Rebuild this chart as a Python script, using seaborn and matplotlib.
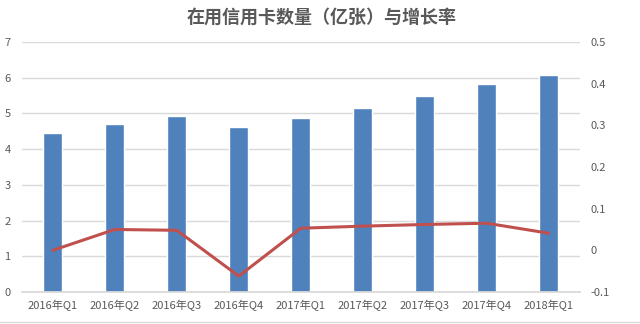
import numpy as np
import pandas as pd
import seaborn as sns
import matplotlib.pyplot as plt
from matplotlib.lines import Line2D

# data
quarters = ['2016年Q1', '2016年Q2', '2016年Q3', '2016年Q4', '2017年Q1',
            '2017年Q2', '2017年Q3', '2017年Q4', '2018年Q1']
cards = [4.45, 4.70, 4.93, 4.62, 4.87, 5.15, 5.49, 5.83, 6.08]   # 亿张
growth = [0.0, 0.050, 0.048, -0.062, 0.053, 0.058, 0.062, 0.065, 0.041]

df = pd.DataFrame({'quarter': quarters, 'cards': cards, 'growth': growth})
df['pos'] = np.arange(len(df))

sns.set_theme(style='white')
plt.rcParams['font.family'] = ['Noto Sans CJK SC', 'DejaVu Sans']

grey = '#595959'
fig = plt.figure(figsize=(6.4, 3.24), dpi=100)
ax = fig.add_axes([0.034, 0.099, 0.872, 0.771])

sns.barplot(data=df, x='quarter', y='cards', color='#4F81BD', width=0.31,
            saturation=1, ax=ax, zorder=2)
ax.set_ylim(0, 7)
ax.set_yticks(range(0, 8))
ax.yaxis.grid(True, color='#D9D9D9', linewidth=1, zorder=0)
ax.set_axisbelow(True)
ax.set_xlabel('')
ax.set_ylabel('')
ax.set_xlim(-0.5, len(df) - 0.5)

ax2 = ax.twinx()
sns.lineplot(data=df, x='pos', y='growth', color='#C0504D', linewidth=2.2,
             ax=ax2, zorder=3)
ax2.set_ylim(-0.1, 0.5)
ax2.set_yticks([-0.1, 0, 0.1, 0.2, 0.3, 0.4, 0.5])
ax2.set_yticklabels(['-0.1', '0', '0.1', '0.2', '0.3', '0.4', '0.5'])
ax2.set_ylabel('')
ax2.set_xlim(-0.5, len(df) - 0.5)

for a in (ax, ax2):
    for s in a.spines.values():
        s.set_visible(False)
    a.tick_params(length=0, labelsize=8, labelcolor=grey)
ax.spines['bottom'].set_visible(True)
ax.spines['bottom'].set_color('#D9D9D9')
ax.tick_params(axis='x', pad=6)
ax.tick_params(axis='y', pad=8)
ax2.tick_params(axis='y', pad=8)

fig.text(0.503, 1 - 17 / 324, '在用信用卡数量（亿张）与增长率', ha='center', va='center',
         fontsize=13, fontweight='bold', color=grey)
fig.add_artist(Line2D([0, 1], [0.006, 0.006], color='#D9D9D9', linewidth=1))

fig.savefig('out.png', dpi=100)
